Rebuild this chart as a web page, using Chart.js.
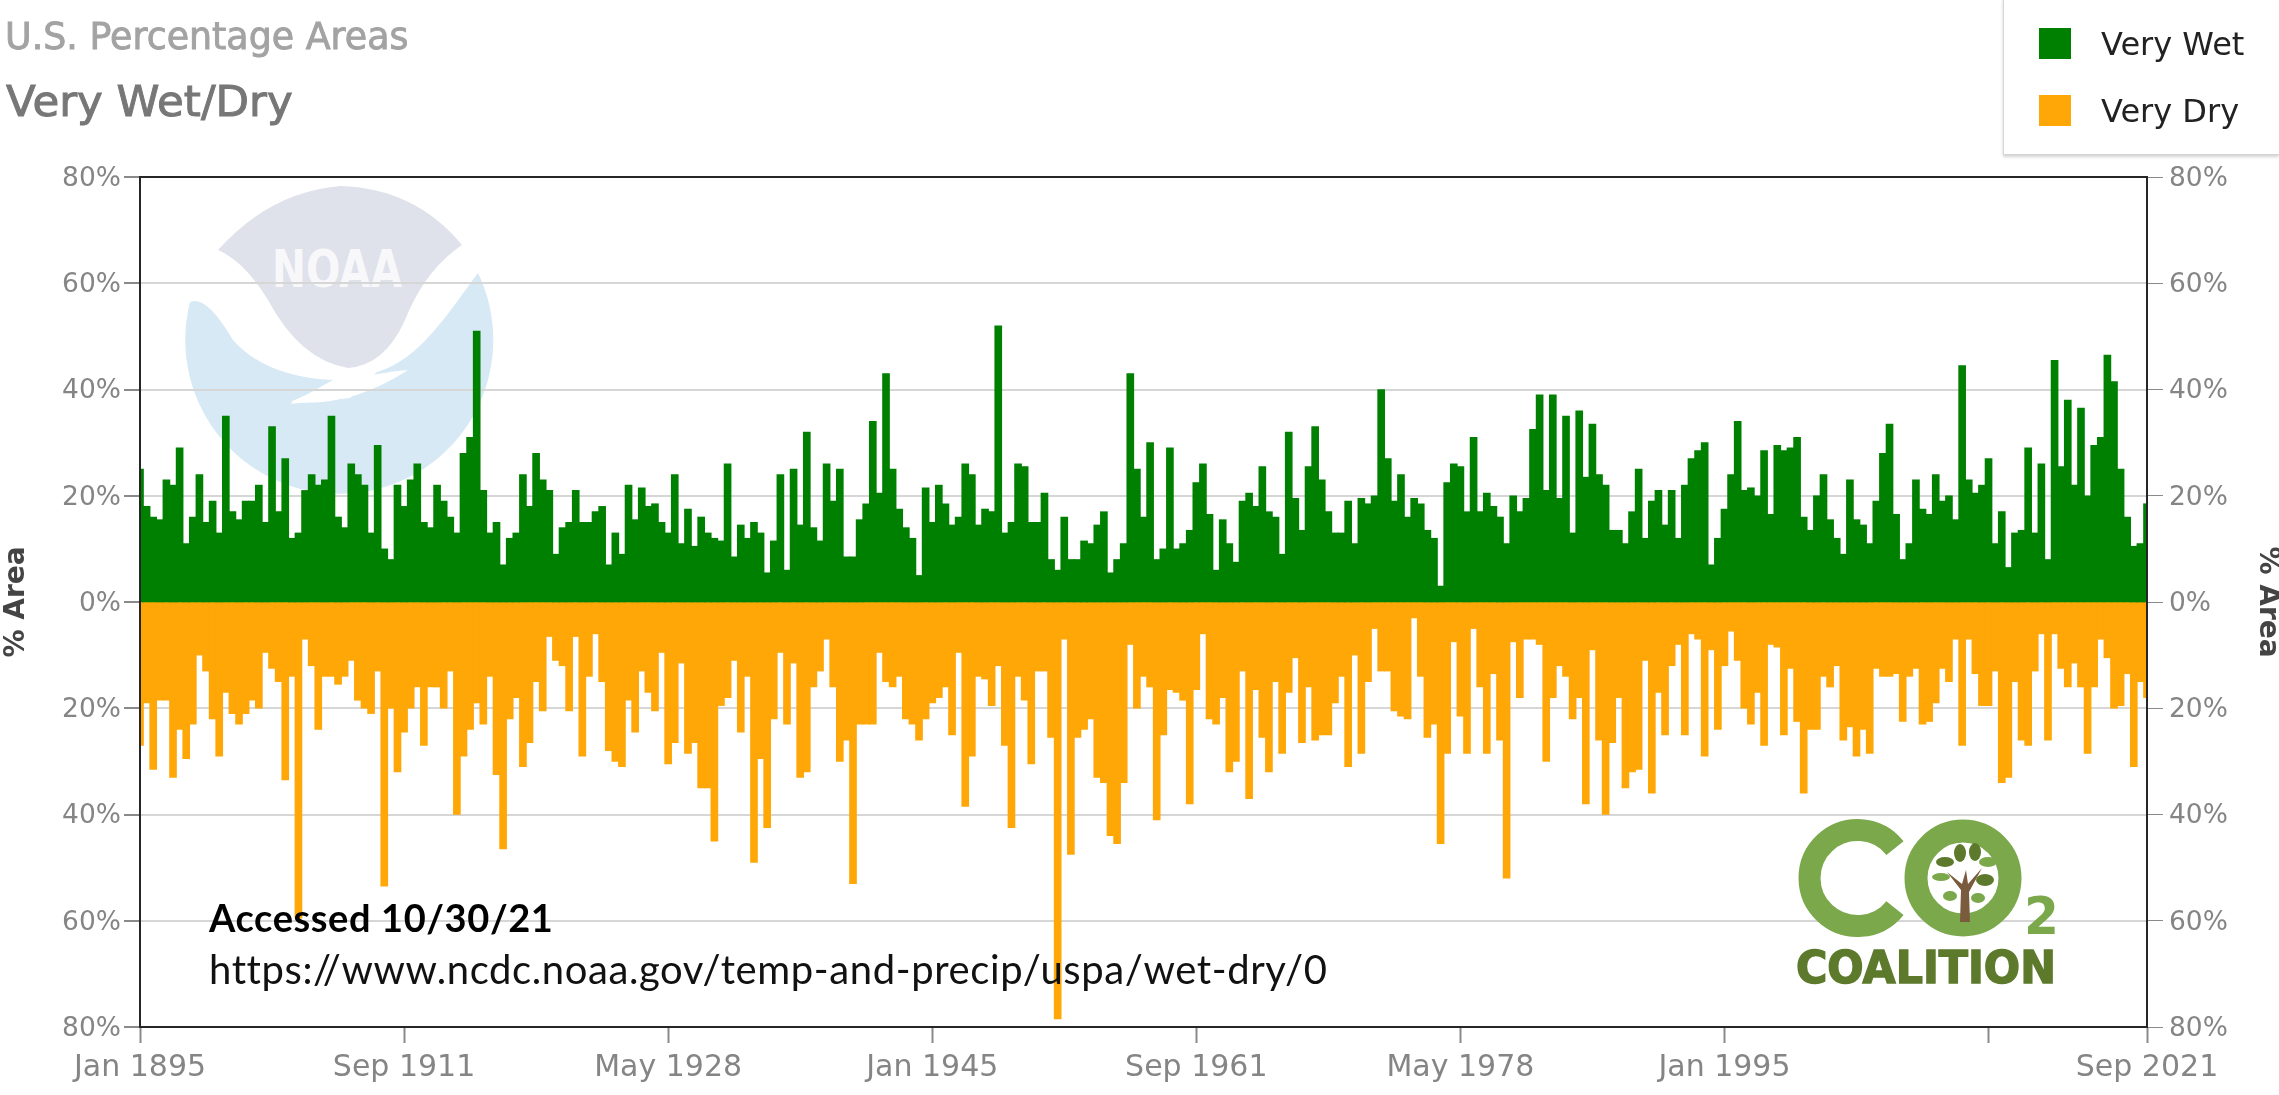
<!DOCTYPE html>
<html>
<head>
<meta charset="utf-8">
<title>U.S. Percentage Areas - Very Wet/Dry</title>
<script src="https://cdn.jsdelivr.net/npm/chart.js@4/dist/chart.umd.min.js"></script>
<style>
  html,body{margin:0;background:#fff;overflow:hidden}
  #wrap{position:relative;width:2279px;height:1095px;font-family:'DejaVu Sans',sans-serif}
  #wrap>*{position:absolute}
  canvas{left:0;top:0}
  svg{left:0;top:0;pointer-events:none}
  .t1{left:5px;top:15px;font-size:36.4px;-webkit-text-stroke:.9px #a3a3a3;color:#a3a3a3;white-space:nowrap}
  .t2{left:6px;top:76px;font-size:43.5px;-webkit-text-stroke:1px #777;color:#777;white-space:nowrap}
  #legend{left:2003px;top:-2px;width:276px;height:157px;box-sizing:border-box;border:1px solid #d5d5d5;border-top:0;border-right:0;box-shadow:0 2px 3px rgba(0,0,0,.18);background:#fff}
  #legend div{position:absolute;left:97px;font-size:32px;color:#222;white-space:nowrap}
  #legend i{position:absolute;left:-62px;top:3px;width:32px;height:31px}
  .acc{left:209px;top:894px;font:bold 38px Lato,sans-serif;letter-spacing:.6px;color:#000;white-space:nowrap}
  .url{left:209px;top:945px;font:40px Lato,sans-serif;letter-spacing:.6px;color:#111;white-space:nowrap}
</style>
</head>
<body>
<div id="wrap">
  <!-- NOAA logo, sits under the chart -->
  <svg width="2279" height="1095">
    <path d="M218,250 Q270,192 340,186 Q415,188 462,245 Q425,270 405,320 Q385,365 348,368 Q300,360 268,300 Q245,262 218,250Z" fill="#dfe2eb"/>
    <path d="M190,302 C205,296 222,322 233,340 C255,365 290,378 333,380 L290,404 L350,398 L377,372 C420,360 450,310 478,273 A154,154 0 1 1 190,302Z" fill="#d6e9f5"/>
    <path d="M408,370 Q350,375 290,402 Q350,408 408,370Z" fill="#fff"/>
    <text x="272" y="287" font-family="'DejaVu Sans'" font-weight="bold" font-size="52" fill="#fff" fill-opacity=".8" textLength="130" lengthAdjust="spacingAndGlyphs">NOAA</text>
  </svg>
  <canvas id="chart" width="2279" height="1095"></canvas>
  <!-- CO2 Coalition logo -->
  <svg width="2279" height="1095">
    <path d="M1895,848 A48,48 0 1 0 1895,908" fill="none" stroke="#7ba84b" stroke-width="22"/>
    <circle cx="1963" cy="878" r="47" fill="#fff" stroke="#7ba84b" stroke-width="23"/>
    <path d="M1960,922 L1961,890 L1947,872 L1962,884 L1966,870 L1968,884 L1982,868 L1969,892 L1970,922Z" fill="#7b5b3e"/>
    <ellipse cx="1945" cy="862" rx="9" ry="5" fill="#5d7a2c"/><ellipse cx="1960" cy="853" rx="6" ry="9" fill="#5d7a2c"/>
    <ellipse cx="1975" cy="852" rx="6" ry="9" fill="#5d7a2c"/><ellipse cx="1988" cy="862" rx="9" ry="5" fill="#7ba84b"/>
    <ellipse cx="1985" cy="880" rx="9" ry="6" fill="#5d7a2c"/><ellipse cx="1941" cy="877" rx="9" ry="4" fill="#7ba84b"/>
    <ellipse cx="1950" cy="896" rx="7" ry="5" fill="#7ba84b"/><ellipse cx="1978" cy="898" rx="7" ry="5" fill="#7ba84b"/>
    <text x="2024" y="934" font-family="'DejaVu Sans'" font-weight="bold" font-size="52" fill="#7ba84b" textLength="35" lengthAdjust="spacingAndGlyphs">2</text>
    <text x="1796" y="983" font-family="'DejaVu Sans'" font-weight="bold" font-size="44" fill="#5d7a2c" stroke="#5d7a2c" stroke-width="1.5" textLength="260" lengthAdjust="spacingAndGlyphs">COALITION</text>
  </svg>
  <div class="t1">U.S. Percentage Areas</div>
  <div class="t2">Very Wet/Dry</div>
  <div id="legend"></div>
  <div class="acc">Accessed 10/30/21</div>
  <div class="url">https://www.ncdc.noaa.gov/temp-and-precip/uspa/wet-dry/0</div>
</div>

<script>
// one reading every 5 months from Jan 1895 to Sep 2021
const veryWet = [
  25,18,16,15.5,23,22,29,11,16,24,
  15,19,13,35,17,15.5,19,19,22,15,
  33,17,27,12,13,21,24,22,23,35,
  16,14,26,24,22,13,29.5,10,8,22,
  18,23,26,15,14,22,19,16,13,28,
  31,51,21,13,15,7,12,13,24,18,
  28,23,21,9,14,15,21,15,15,17,
  18,7,13,9,22,15.5,21.5,18,18.5,15,
  13,24,11,17.5,10.5,16,13,12,11.5,26,
  8.5,14.5,12,15,13,5.5,11.5,24,6,25,
  14.5,32,14,11.5,26,19,25,8.5,8.5,15.5,
  18.5,34,20.5,43,25,17.5,14,12,5,21.5,
  15,22,18.5,14.5,16,26,24,14.5,17.5,17,
  52,13,15,26,25.5,15,15,20.5,8,6,
  16,8,8,11.5,11,14.5,17,5.5,8,11,
  43,25,16,30,8,10,29,10,11,13.5,
  22.5,26,16.5,6,15.5,11,7.5,19,20.5,18,
  25.5,17,16,9,32,19.5,13.5,25.5,33,23,
  17,13,13,19,11,19.5,18.5,20,40,27,
  19,24,16,19.5,18.5,13.5,12,3,22.5,26,
  25.5,17,31,17,20.5,18,16,11,20,17,
  19.5,32.5,39,21,39,19.5,35,13,36,23.5,
  33.5,24,22,13.5,13.5,11,17,25,12,19,
  21,14.5,21,12,22,27,28.5,30,7,12,
  17.5,24,34,21,21.5,20,28.5,16.5,29.5,28.5,
  29,31,16,13.5,20,24,15.5,12,9,23,
  15.5,14.5,11,19,28,33.5,16.5,8,11,23,
  17.5,16.5,24,19,20,15.5,44.5,23,20.5,22,
  27,11,17,6.5,13,13.5,29,13,26,8,
  45.5,25.5,38,22,36.5,20,29.5,31,46.5,41.5,
  25,16,10.5,11,18.5
];
const veryDry = [
  27,19,31.5,18.5,18.5,33,24,29.5,23,10,
  13,22,29,17,21,23,21,18.5,20,9.5,
  12.5,15,33.5,14,59.5,7,12,24,14,14,
  15.5,14,11,18.5,20,21,13,53.5,20,32,
  24.5,20,16,27,16,16,20,13,40,29,
  24,19,23,14,32.5,46.5,22,18,31,26.5,
  15,20.5,6.5,11,12,20.5,6.5,29,14,6,
  15,28,30,31,18.5,24.5,13,17,20.5,9.5,
  30.5,26.5,11.5,28.5,26.5,35,35,45,19.5,18,
  11,24.5,14,49,29.5,42.5,22,9.5,23,11.5,
  33,32,16,13,7,16,30,26,53,23,
  23,23,9.5,15,16,14,22,23,26,22,
  19,18,16,25,9.5,38.5,29,14,14.5,19.5,
  12,27,42.5,14,18.5,30.5,13,13,25.5,78.5,
  7,47.5,25.5,24,22,33,34,44,45.5,34,
  8,20,14,16,41,25,16.5,17,18.5,38,
  16.5,6,22,23,18,32,30,13,37,16.5,
  25.5,32,15,28.5,17,10.5,26.5,16,26,25,
  25,19,14,31,10,28.5,15,5,13,13,
  20.5,21.5,22,3,14,25.5,23,45.5,28.5,7.5,
  21.5,28.5,5,16,28.5,13.5,26,52,7.5,18,
  7,7,8,30,18,12,14,22,18,38,
  9,26,40,26.5,18,35,32,31.5,11,36,
  17,25,12,8,25,6,7,29,9,24,
  12,5.5,11,20,23,17,27,8,8.5,25,
  12.5,22.5,36,24,24,14,16,12,26,23.5,
  29,24,28.5,12.5,14,14,13.5,22.5,14,12.5,
  23,22.5,19,12.5,15,7,27,7,13.5,19.5,
  19.5,13,34,33,15,26,27,13,6,26,
  6,12.5,16,11.5,16,28.5,16,7,10.5,20,
  19.5,13.5,31,15,18
].map(v=>-v);

const monthNames = ['Jan','Feb','Mar','Apr','May','Jun','Jul','Aug','Sep','Oct','Nov','Dec'];
const categories = veryWet.map((_,i)=>{
  const m = i*5;
  return monthNames[m%12]+' '+(1895+Math.floor(m/12));
});
const xTicks = ['Jan 1895','Sep 1911','May 1928','Jan 1945','Sep 1961','May 1978','Jan 1995','Sep 2011','Sep 2021'];
const xTicksNoLabel = ['Sep 2011'];
const yTicks = [-80,-60,-40,-20,0,20,40,60,80];

const GREEN = '#008000', ORANGE = '#ffa706', TICK = '#8a8a8a', LABEL = '#858585', GRID = '#d6d6d6';
const tickFont = {family:"'DejaVu Sans', sans-serif", size:26.5};
const titleFont = {family:"'DejaVu Sans', sans-serif", size:28, weight:'bold'};

const series = [
  {label:'Very Wet', data:veryWet, backgroundColor:GREEN},
  {label:'Very Dry', data:veryDry, backgroundColor:ORANGE}
];

document.getElementById('legend').innerHTML = series.map((s,i)=>
  `<div style="top:${27+i*67}px"><i style="background:${s.backgroundColor}"></i>${s.label}</div>`).join('');

const yTickSetup = s => { s.ticks = yTicks.map(v=>({value:v})); };

// frame round the plot area
const frame = {
  id:'frame',
  afterDatasetsDraw(c){
    const a = c.chartArea, g = c.ctx;
    g.save();
    g.strokeStyle = '#262626'; g.lineWidth = 2;
    g.strokeRect(a.left, a.top, a.right-a.left, a.bottom-a.top);
    g.restore();
  }
};

new Chart(document.getElementById('chart').getContext('2d'), {
  type:'bar',
  data:{
    labels:categories,
    datasets:series.map(s=>({...s, grouped:false, barThickness:7, borderWidth:0}))
  },
  plugins:[frame],
  options:{
    responsive:false, animation:false,
    layout:{padding:{top:177}},
    plugins:{legend:{display:false}, tooltip:{enabled:false}},
    scales:{
      x:{
        offset:false,
        grid:{display:true, offset:false, drawOnChartArea:false, drawTicks:true, tickLength:16, tickColor:TICK, tickWidth:2},
        border:{display:false},
        afterBuildTicks:s=>{ s.ticks = xTicks.map(t=>({value:categories.indexOf(t)})); },
        afterFit:s=>{ s.height = 68; },
        ticks:{
          autoSkip:false, maxRotation:0, minRotation:0, color:LABEL, padding:7,
          font:{family:"'DejaVu Sans', sans-serif", size:30},
          callback(v){ const t = categories[v]; return xTicksNoLabel.includes(t) ? '' : t; }
        }
      },
      y:{
        position:'left', min:-80, max:80,
        afterBuildTicks:yTickSetup,
        afterFit:s=>{ s.width = 140; },
        // no line at zero, the bars would leave a seam for it
        grid:{color:GRID, lineWidth:c=>c.tick && c.tick.value===0 ? 0 : 2, tickColor:TICK, tickWidth:2, tickLength:16},
        border:{display:false},
        title:{display:true, text:'% Area', color:'#444', font:titleFont, padding:0},
        ticks:{color:LABEL, font:tickFont, padding:3, labelOffset:2, callback:v=>Math.abs(v)+'%'}
      },
      y2:{
        position:'right', min:-80, max:80,
        afterBuildTicks:yTickSetup,
        afterFit:s=>{ s.width = 132; },
        grid:{drawOnChartArea:false, tickColor:TICK, tickLength:16},
        border:{display:false},
        title:{display:true, text:'% Area', color:'#444', font:titleFont, padding:{top:-5,bottom:0}},
        ticks:{color:LABEL, font:tickFont, padding:6, labelOffset:2, callback:v=>Math.abs(v)+'%'}
      }
    }
  }
});
</script>
</body>
</html>
